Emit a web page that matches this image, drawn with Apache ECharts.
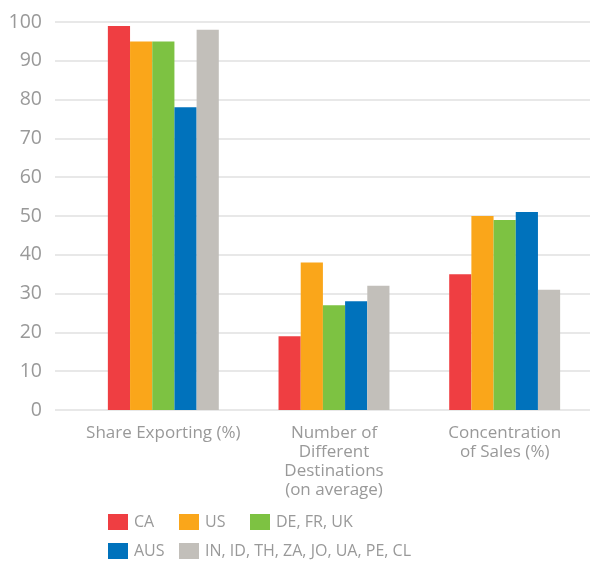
<!DOCTYPE html>
<html>
<head>
<meta charset="utf-8">
<script src="https://cdn.jsdelivr.net/npm/echarts@6/dist/echarts.min.js"></script>
<style>
  html, body { margin: 0; padding: 0; background: #fff; }
  #chart { width: 593px; height: 561px; }
</style>
</head>
<body>
<div id="chart"></div>
<script>
// Categories along the x axis
const categories = ['Share Exporting (%)', 'Number of\nDifferent\nDestinations\n(on average)', 'Concentration\nof Sales (%)'];
// Series names
const seriesNames = ['CA', 'US', 'DE, FR, UK', 'AUS', 'IN, ID, TH, ZA, JO, UA, PE, CL'];
// Values per series, one per category
const valuesCA = [99, 19, 35];
const valuesUS = [95, 38, 50];
const valuesEU = [95, 27, 49];
const valuesAUS = [78, 28, 51];
const valuesOther = [98, 32, 31];
const yTicks = [0, 100, 10];

const colors = ['#EF3E42', '#FAA61A', '#7DC242', '#0072BC', '#C2BFBA'];
const textColor = '#999999';
const fontFamily = '"Open Sans", "Noto Sans", sans-serif';

const allValues = [valuesCA, valuesUS, valuesEU, valuesAUS, valuesOther];

const chart = echarts.init(document.getElementById('chart'));

const legendPos = [
  { left: 108, top: 514 },
  { left: 179, top: 514 },
  { left: 250, top: 514 },
  { left: 108, top: 543 },
  { left: 179, top: 543 }
];

chart.setOption({
  animation: false,
  color: colors,
  textStyle: { fontFamily: fontFamily },
  grid: [
    { left: 55, right: 3, top: 22, bottom: 151 },
    { left: 78, right: 3, top: 22, bottom: 151 }
  ],
  legend: seriesNames.map((n, i) => ({
    data: [n],
    left: legendPos[i].left,
    top: legendPos[i].top,
    itemWidth: 20,
    itemHeight: 16,
    itemGap: 0,
    icon: 'rect',
    textStyle: { color: textColor, fontSize: 16, fontFamily: fontFamily, padding: [0, 0, 0, 1] },
    padding: 0
  })),
  xAxis: [
    { gridIndex: 0, type: 'value', show: false, min: 0, max: 1 },
    {
      gridIndex: 1,
      type: 'category',
      data: categories,
      axisLine: { show: false },
      axisTick: { show: false },
      axisLabel: {
        interval: 0,
        color: textColor,
        fontSize: 17,
        lineHeight: 19,
        margin: 14,
        fontFamily: fontFamily
      }
    }
  ],
  yAxis: [
    {
      gridIndex: 0,
      type: 'value',
      min: yTicks[0],
      max: yTicks[1],
      interval: yTicks[2],
      axisLine: { show: false },
      axisTick: { show: false },
      axisLabel: { color: textColor, fontSize: 19.5, margin: 13, fontFamily: fontFamily },
      splitLine: { lineStyle: { color: '#e0e0e0', width: 1.5 } }
    },
    {
      gridIndex: 1,
      type: 'value',
      min: yTicks[0],
      max: yTicks[1],
      interval: yTicks[2],
      show: false
    }
  ],
  series: seriesNames.map((n, i) => ({
    name: n,
    type: 'bar',
    xAxisIndex: 1,
    yAxisIndex: 1,
    data: allValues[i],
    barGap: '0%',
    barCategoryGap: '35%',
    itemStyle: { color: colors[i] }
  }))
});
</script>
</body>
</html>
